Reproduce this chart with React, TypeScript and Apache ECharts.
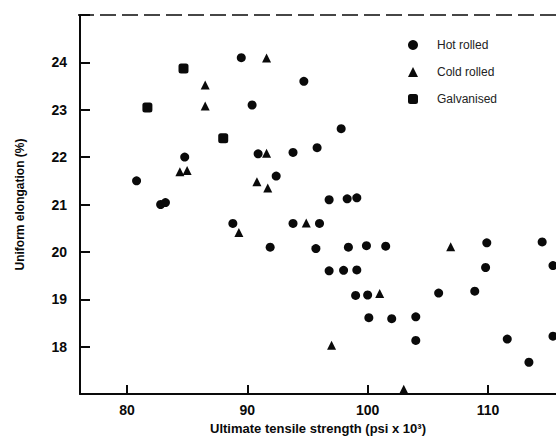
import React, { useEffect, useRef } from "react";
import * as echarts from "echarts";

// [tensile strength (psi x 10^3), uniform elongation (%)]
const hotRolled: [number, number][] = [
  [89.5, 24.1], [94.7, 23.6], [90.4, 23.1], [97.8, 22.6], [95.8, 22.2],
  [93.8, 22.1], [90.9, 22.07], [84.8, 22.0], [80.8, 21.5], [92.4, 21.6],
  [82.8, 21.0], [83.2, 21.04], [88.8, 20.6], [93.8, 20.6], [96.0, 20.6],
  [96.8, 21.1], [98.3, 21.12], [99.1, 21.14], [91.9, 20.1], [95.7, 20.07],
  [98.4, 20.1], [99.9, 20.13], [101.5, 20.12], [96.8, 19.6], [98.0, 19.61],
  [99.1, 19.62], [99.0, 19.08], [100.0, 19.09], [100.1, 18.61], [102.0, 18.59],
  [104.0, 18.63], [104.0, 18.13], [105.9, 19.13], [108.9, 19.17], [109.9, 20.19],
  [109.8, 19.67], [114.5, 20.21], [115.4, 19.71], [111.6, 18.16], [115.4, 18.22],
  [113.4, 17.67],
];

const coldRolled: [number, number][] = [
  [91.6, 24.09], [86.5, 23.52], [86.5, 23.08], [91.6, 22.08], [84.4, 21.69],
  [85.0, 21.72], [90.8, 21.48], [91.7, 21.35], [89.3, 20.41], [94.9, 20.61],
  [101.0, 19.12], [97.0, 18.03], [106.9, 20.11], [103.0, 17.1],
];

const galvanised: [number, number][] = [
  [84.7, 23.87], [81.7, 23.05], [88.0, 22.4],
];

const xTickLabels = [80, 90, 100, 110];
const yTickLabels = [18, 19, 20, 21, 22, 23, 24];

const seriesNames = ["Hot rolled", "Cold rolled", "Galvanised"];

export default function App() {
  const ref = useRef<HTMLDivElement>(null);

  useEffect(() => {
    if (!ref.current) return;
    const chart = echarts.init(ref.current, undefined, { renderer: "svg" });
    const ink = "#0a0a0a";
    const font = "Liberation Sans";
    chart.setOption({
      animation: false,
      backgroundColor: "#ffffff",
      grid: { left: 80, right: 0, top: 15, bottom: 47, containLabel: false },
      legend: {
        orient: "vertical",
        left: 403,
        top: 34,
        itemWidth: 10,
        itemHeight: 10,
        itemGap: 15,
        data: seriesNames,
        itemStyle: { opacity: 1 },
        textStyle: { fontFamily: font, fontSize: 12, color: "#222", padding: [0, 0, 0, 14] },
      },
      xAxis: {
        type: "value",
        min: 76.1,
        max: 115.65,
        name: "Ultimate tensile strength (psi x 10³)",
        nameLocation: "middle",
        nameGap: 25,
        nameTextStyle: { fontFamily: font, fontSize: 13, fontWeight: "bold", color: ink },
        splitLine: { show: false },
        axisLine: { lineStyle: { color: ink, width: 2 } },
        axisTick: { inside: true, length: 9, lineStyle: { color: ink, width: 2 } },
        axisLabel: {
          margin: 9,
          fontFamily: font,
          fontSize: 14,
          fontWeight: "bold",
          color: ink,
          showMinLabel: false,
          showMaxLabel: false,
          formatter: (v: number) => (xTickLabels.includes(Math.round(v * 100) / 100) ? String(v) : ""),
        },
      },
      yAxis: {
        type: "value",
        min: 17,
        max: 25,
        interval: 1,
        name: "Uniform elongation (%)",
        nameLocation: "middle",
        nameRotate: 90,
        nameGap: 54,
        nameTextStyle: { fontFamily: font, fontSize: 12, fontWeight: "bold", color: ink },
        splitLine: { show: false },
        axisLine: { lineStyle: { color: ink, width: 2 } },
        axisTick: { inside: true, length: 10, lineStyle: { color: ink, width: 2 } },
        axisLabel: {
          margin: 13,
          fontFamily: font,
          fontSize: 14,
          fontWeight: "bold",
          color: ink,
          formatter: (v: number) => (yTickLabels.includes(v) ? String(v) : ""),
        },
      },
      graphic: [
        {
          type: "line",
          shape: { x1: 78, y1: 15, x2: 556, y2: 15 },
          style: { stroke: ink, lineWidth: 1.5, lineDash: [16, 6] },
          z: 10,
        },
      ],
      series: [
        {
          name: seriesNames[0],
          type: "scatter",
          data: hotRolled,
          symbol: "circle",
          symbolSize: 9,
          itemStyle: { color: ink, opacity: 1 },
          clip: false,
        },
        {
          name: seriesNames[1],
          type: "scatter",
          data: coldRolled,
          symbol: "triangle",
          symbolSize: 9,
          itemStyle: { color: ink, opacity: 1 },
          clip: false,
        },
        {
          name: seriesNames[2],
          type: "scatter",
          data: galvanised,
          symbol: "roundRect",
          symbolSize: 10,
          itemStyle: { color: ink, opacity: 1 },
          clip: false,
        },
      ],
    });
    return () => chart.dispose();
  }, []);

  return <div ref={ref} style={{ width: 556, height: 441, position: "absolute", left: 0, top: 0 }} />;
}
